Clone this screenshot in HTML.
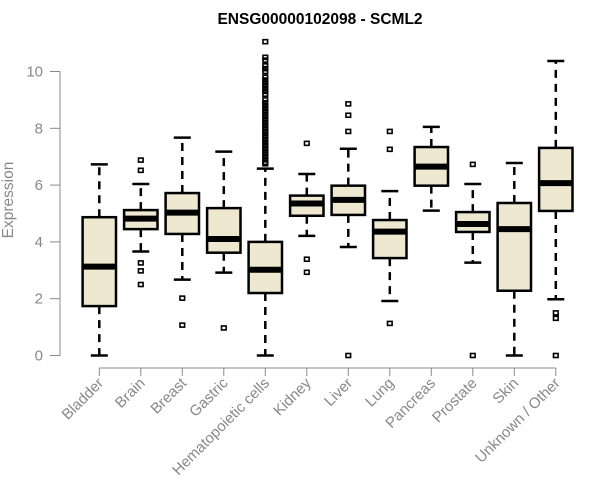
<!DOCTYPE html>
<html><head><meta charset="utf-8"><style>
html,body{margin:0;padding:0;background:#fff;}
svg{display:block;font-family:"Liberation Sans",Arial,sans-serif;}
</style></head><body>
<svg id="chart" width="600" height="500">
<text x="320" y="24" text-anchor="middle" font-weight="bold" font-size="15.5">ENSG00000102098 - SCML2</text>
<text transform="translate(13,200) rotate(-90)" text-anchor="middle" font-size="15.5" fill="#888">Expression</text>
<g id="yaxis"></g>
<g id="xaxis"></g>
<g id="boxes"></g>
</svg>
<script>
const categories=["Bladder","Brain","Breast","Gastric","Hematopoietic cells","Kidney","Liver","Lung","Pancreas","Prostate","Skin","Unknown / Other"];
const whiskerLow=[0,3.66,2.67,2.92,0,4.21,3.82,1.92,5.1,3.27,0,1.98];
const q1=[1.74,4.45,4.28,3.62,2.2,4.92,4.95,3.43,5.98,4.35,2.28,5.09];
const medians=[3.13,4.82,5.03,4.1,3.02,5.35,5.48,4.36,6.65,4.63,4.45,6.07];
const q3=[4.87,5.12,5.72,5.19,4.0,5.63,5.98,4.77,7.34,5.05,5.37,7.31];
const whiskerHigh=[6.73,6.04,7.67,7.18,6.58,6.39,7.28,5.79,8.05,6.04,6.78,10.37];
const outliers=[[],[6.88,6.52,3.26,2.98,2.5],[2.02,1.07],[0.97],
[11.05,10.5,10.4,10.2,10.1,10.0,9.8,9.7,9.6,9.5,9.4,9.3,9.2,9.0,8.9,8.8,8.7,8.6,8.5,8.4,8.3,8.2,8.1,8.0,7.9,7.8,7.7,7.6,7.5,7.4,7.3,7.2,7.1,7.0,6.9,6.8,6.75],
[7.47,3.39,2.93],[8.86,8.46,7.89,0],[7.89,7.26,1.13],[],[6.73,0],[],[1.5,1.31,0]];
const yTicks=[0,2,4,6,8,10];
const NS="http://www.w3.org/2000/svg";
const y=v=>355.5-v*28.4;
const x=i=>99.3+i*41.5;
function mk(p,t,a){const e=document.createElementNS(NS,t);for(const k in a)e.setAttribute(k,a[k]);p.appendChild(e);return e;}
const ya=document.getElementById('yaxis');
let l=mk(ya,'line',{x1:60,x2:60,y1:y(10),y2:y(0),stroke:'#888'});


yTicks.forEach(t=>{
 const tk=mk(ya,'line',{x1:50,x2:60,y1:y(t),y2:y(t),stroke:'#888'});
 
 
 const tx=mk(ya,'text',{x:43,y:y(t)+5,'text-anchor':'end','font-size':15,fill:'#888'});
 tx.textContent=t;
 
 
});
const xa=document.getElementById('xaxis');
l=mk(xa,'line',{x1:x(0),x2:x(11),y1:368,y2:368,stroke:'#888'});


categories.forEach((c,i)=>{
 const tk=mk(xa,'line',{x1:x(i),x2:x(i),y1:368,y2:376,stroke:'#888'});
 
 
 const tx=mk(xa,'text',{transform:`translate(${x(i)+5},${384}) rotate(-45)`,'text-anchor':'end','font-size':15,fill:'#888'});
 tx.textContent=c;
 
 
});
const bx=document.getElementById('boxes');
categories.forEach((c,i)=>{
 const g=mk(bx,'g',{});
 
 
 const cx=x(i),hw=16.7;
 mk(g,'line',{x1:cx,x2:cx,y1:y(q3[i]),y2:y(whiskerHigh[i]),stroke:'#000','stroke-width':2.5,'stroke-dasharray':'8,6'});
 mk(g,'line',{x1:cx,x2:cx,y1:y(q1[i]),y2:y(whiskerLow[i]),stroke:'#000','stroke-width':2.5,'stroke-dasharray':'8,6'});
 mk(g,'line',{x1:cx-8.5,x2:cx+8.5,y1:y(whiskerHigh[i]),y2:y(whiskerHigh[i]),stroke:'#000','stroke-width':2.5});
 mk(g,'line',{x1:cx-8.5,x2:cx+8.5,y1:y(whiskerLow[i]),y2:y(whiskerLow[i]),stroke:'#000','stroke-width':2.5});
 mk(g,'rect',{x:cx-hw,y:y(q3[i]),width:2*hw,height:y(q1[i])-y(q3[i]),fill:'#ede8cf',stroke:'#000','stroke-width':2.5});
 mk(g,'line',{x1:cx-hw,x2:cx+hw,y1:y(medians[i]),y2:y(medians[i]),stroke:'#000','stroke-width':6});
 outliers[i].forEach(v=>{
  const p=mk(g,'rect',{x:cx-2.3,y:y(v)-2,width:4.6,height:4,fill:'none',stroke:'#000','stroke-width':1.6});
  
  
 });
});
</script>
</body></html>
